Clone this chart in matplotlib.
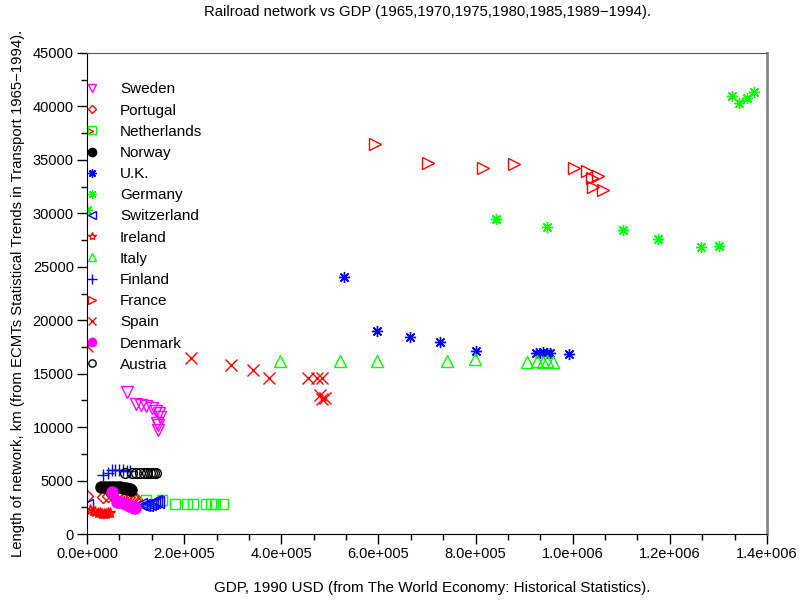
import matplotlib
matplotlib.use('Agg')
import matplotlib.pyplot as plt
from matplotlib.ticker import MultipleLocator, FuncFormatter

plt.rcParams['font.family'] = ['Liberation Sans', 'DejaVu Sans']

# GDP (1990 USD, millions) and railroad length (km) per country
sweden_gdp = [82400, 100900, 111200, 121500, 133800, 142100, 148200, 150300, 144100, 146200, 146200]
sweden_km = [13257, 12137, 12043, 11950, 11763, 11483, 11297, 10923, 10363, 10176, 9709]

portugal_gdp = [0, 32900, 43200, 51500, 61800, 70000, 78200, 86500, 94700, 100900, 105000]
portugal_km = [3548, 3454, 3548, 3641, 3734, 3548, 3454, 3454, 3361, 3268, 2894]

netherlands_gdp = [121500, 154400, 181200, 205900, 218200, 245000, 255300, 263500, 280000]
netherlands_km = [3174, 3174, 2801, 2801, 2801, 2801, 2801, 2801, 2801]

norway_gdp = [28800, 37100, 45300, 53500, 61800, 67900, 74100, 80300, 84400, 88500, 90600]
norway_km = [4388, 4388, 4388, 4388, 4388, 4388, 4295, 4295, 4201, 4201, 4108]

uk_gdp = [529000, 597000, 665000, 727000, 801000, 924000, 933000, 939000, 947000, 953000, 992000]
uk_km = [24087, 18952, 18392, 17925, 17085, 16898, 16898, 16992, 16898, 16898, 16805]

germany_gdp = [0, 842000, 947000, 1104000, 1176000, 1264000, 1301000, 1328000, 1342000, 1359000, 1373000]
germany_km = [30342, 29502, 28755, 28475, 27635, 26888, 26981, 40985, 40331, 40798, 41358]

switzerland_gdp = [0, 111200, 117400, 123500, 129700, 133800, 137900, 142100, 146200]
switzerland_km = [2707, 2801, 2707, 2707, 2801, 2894, 2988, 3081, 2988]

ireland_gdp = [6200, 12400, 16500, 22600, 26800, 30900, 35000, 39100, 43200, 47400]
ireland_km = [2241, 2147, 2054, 1961, 1961, 1867, 1867, 1867, 1961, 1961]

italy_gdp = [397000, 521000, 597000, 741000, 799000, 906000, 926000, 939000, 947000, 959000]
italy_km = [16150, 16150, 16150, 16150, 16340, 16060, 16150, 16060, 16150, 16060]

finland_gdp = [32900, 43200, 51500, 57600, 65900, 74100, 82400, 88500]
finland_km = [5508, 5695, 5975, 5975, 5975, 5975, 5882, 5882]

france_gdp = [0, 593000, 702000, 815000, 879000, 1003000, 1029000, 1040000, 1052000, 1042000, 1062000]
france_km = [37717, 36503, 34729, 34262, 34636, 34262, 33983, 33329, 33516, 32489, 32209]

spain_gdp = [0, 214000, 296000, 342000, 375000, 455000, 474000, 484000, 480000, 490000, 484000]
spain_km = [17552, 16431, 15778, 15311, 14564, 14564, 14564, 14564, 12977, 12697, 12604]

denmark_gdp = [51500, 61800, 67900, 74100, 80300, 84400, 88500, 92600, 96800, 98800]
denmark_km = [3921, 2988, 2988, 2894, 2801, 2707, 2614, 2521, 2521, 2427]

austria_gdp = [78200, 92600, 100900, 109100, 117400, 123500, 129700, 133800, 137900, 142100]
austria_km = [5695, 5695, 5695, 5695, 5695, 5695, 5695, 5695, 5695, 5695]

series = [
    ('Sweden', sweden_gdp, sweden_km, dict(marker='v', color='#ff00ff', mfc='none', ms=8)),
    ('Portugal', portugal_gdp, portugal_km, dict(marker='D', color='#ff0000', mfc='none', ms=6)),
    ('Netherlands', netherlands_gdp, netherlands_km, dict(marker='s', color='#00ff00', mfc='none', ms=7)),
    ('Norway', norway_gdp, norway_km, dict(marker='o', color='black', ms=8)),
    ('U.K.', uk_gdp, uk_km, dict(marker=(8, 2, 0), color='#0000ff', ms=8)),
    ('Germany', germany_gdp, germany_km, dict(marker=(8, 2, 0), color='#00ff00', ms=8)),
    ('Switzerland', switzerland_gdp, switzerland_km, dict(marker='<', color='#0000ff', mfc='none', ms=8)),
    ('Ireland', ireland_gdp, ireland_km, dict(marker='*', color='#ff0000', mfc='none', ms=8)),
    ('Italy', italy_gdp, italy_km, dict(marker='^', color='#00ff00', mfc='none', ms=8)),
    ('Finland', finland_gdp, finland_km, dict(marker='+', color='#0000ff', ms=9)),
    ('France', france_gdp, france_km, dict(marker='>', color='#ff0000', mfc='none', ms=8)),
    ('Spain', spain_gdp, spain_km, dict(marker='x', color='#ff0000', ms=8)),
    ('Denmark', denmark_gdp, denmark_km, dict(marker='o', color='#ff00ff', ms=8)),
    ('Austria', austria_gdp, austria_km, dict(marker='o', color='black', mfc='none', ms=7)),
]

fig = plt.figure(figsize=(8.01, 6.03), dpi=100)
ax = fig.add_axes([87 / 801, 1 - 534 / 603, 680 / 801, 481 / 603])

for name, gdp, km, st in series:
    ax.plot(gdp, km, linestyle='none', mew=1, label=name, **st)

ax.set_xlim(0, 1.4e6)
ax.set_ylim(0, 45000)


def sci(v, pos):
    m, e = f'{v:.1e}'.split('e')
    return f'{m}e{int(e):+04d}'


ax.xaxis.set_major_locator(MultipleLocator(2e5))
ax.xaxis.set_minor_locator(MultipleLocator(2e5 / 3))
ax.xaxis.set_major_formatter(FuncFormatter(sci))
ax.yaxis.set_major_locator(MultipleLocator(5000))
ax.yaxis.set_minor_locator(MultipleLocator(2500))
ax.tick_params(which='major', direction='out', length=7.5, width=1, labelsize=10.5, pad=2)
ax.tick_params(which='minor', direction='out', length=4.5, width=1)
ax.tick_params(top=False, right=False)

ax.spines['top'].set_color('#555555')
ax.spines['right'].set_color('#888888')
ax.spines['right'].set_linewidth(2)

ax.legend(loc='upper left', bbox_to_anchor=(-0.004, 0.939), frameon=False,
          fontsize=11, handlelength=1.0, handletextpad=1.33, labelspacing=0.47,
          borderaxespad=0, borderpad=0, numpoints=1, markerscale=0.75)

fig.text(427 / 801, 1 - 12 / 603, 'Railroad network vs GDP (1965,1970,1975,1980,1985,1989\u22121994).',
         ha='center', va='center', fontsize=10.7)
fig.text(432 / 801, 1 - 588 / 603, 'GDP, 1990 USD (from The World Economy: Historical Statistics).',
         ha='center', va='center', fontsize=11)
fig.text(18 / 801, 1 - 293 / 603,
         'Length of network, km (from ECMTs Statistical Trends in Transport 1965\u22121994).',
         ha='center', va='center', rotation=90, fontsize=10.7)

fig.savefig('out.png', dpi=100)
